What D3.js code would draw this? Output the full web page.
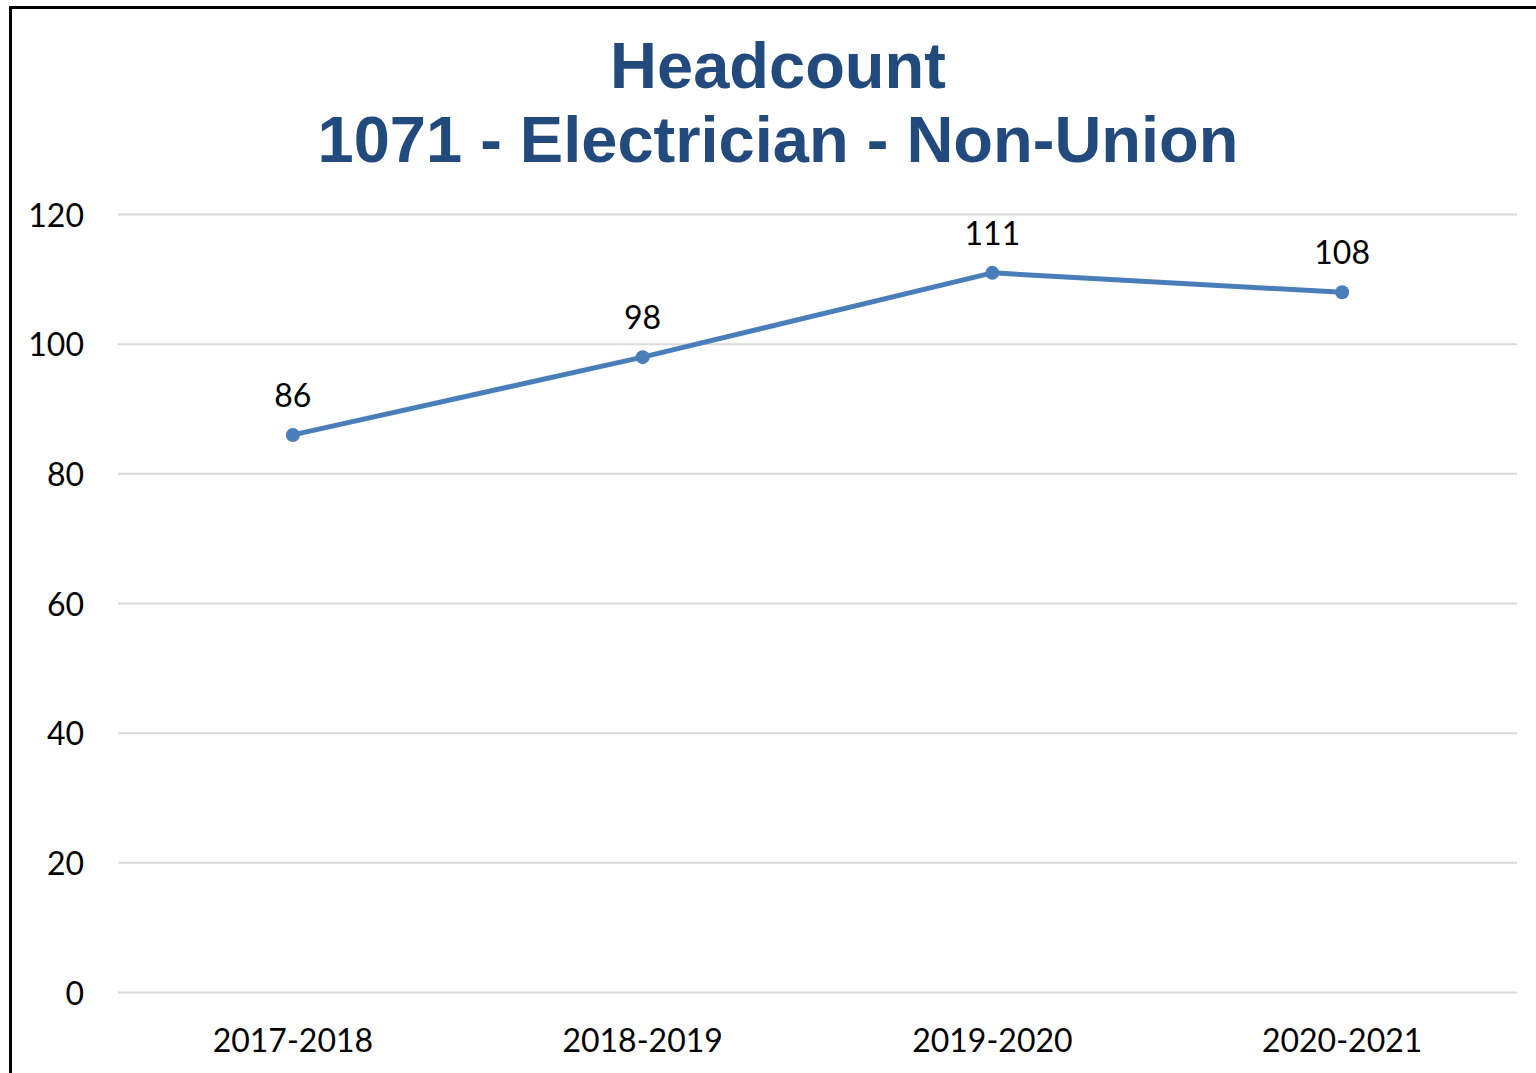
<!DOCTYPE html>
<html><head><meta charset="utf-8">
<script src="https://cdn.jsdelivr.net/npm/d3@7"></script>
<style>html,body{margin:0;padding:0;background:#fff;overflow:hidden}</style>
</head><body>
<svg id="chart" width="1536" height="1073"></svg>
<script>
const categories = ["2017-2018","2018-2019","2019-2020","2020-2021"];
const headcount = [86, 98, 111, 108];
const yTicks = [0, 20, 40, 60, 80, 100, 120];
const titleLines = ["Headcount", "1071 - Electrician - Non-Union"];

const svg = d3.select("#chart");
const W = 1536, H = 1073;
const plot = {left: 118, right: 1517, top: 214.5, bottom: 992.5};

svg.append("rect").attr("x", 10.5).attr("y", 7.5).attr("width", W + 20).attr("height", H + 20)
  .attr("fill", "#fff").attr("stroke", "#000").attr("stroke-width", 3);

const x = d3.scaleBand().domain(categories).range([plot.left, plot.right]);
const y = d3.scaleLinear().domain([0, 120]).range([plot.bottom, plot.top]);

// gridlines
svg.append("g").selectAll("line").data(yTicks).join("line")
  .attr("x1", plot.left).attr("x2", plot.right)
  .attr("y1", d => y(d)).attr("y2", d => y(d))
  .attr("stroke", "#d9d9d9").attr("stroke-width", 2);

const labelFont = "Lato, 'Open Sans', sans-serif";

// y axis
const yAxis = svg.append("g").attr("transform", `translate(${plot.left},0)`)
  .call(d3.axisLeft(y).tickValues(yTicks).tickSize(0).tickPadding(34));
yAxis.select(".domain").remove();
yAxis.selectAll("text").attr("font-family", labelFont).attr("font-size", 32).attr("fill", "#000").attr("dy", "0.36em");

// x axis
const xAxis = svg.append("g").attr("transform", `translate(0,${plot.bottom})`)
  .call(d3.axisBottom(x).tickSize(0).tickPadding(37));
xAxis.select(".domain").remove();
xAxis.selectAll("text").attr("font-family", labelFont).attr("font-size", 32).attr("fill", "#000");

const cx = c => x(c) + x.bandwidth() / 2;
const pts = categories.map((c, i) => ({c, v: headcount[i]}));

svg.append("path").datum(pts)
  .attr("d", d3.line().x(d => cx(d.c)).y(d => y(d.v)))
  .attr("fill", "none").attr("stroke", "#4a7ebb").attr("stroke-width", 5).attr("stroke-linejoin", "round");

svg.append("g").selectAll("circle").data(pts).join("circle")
  .attr("cx", d => cx(d.c)).attr("cy", d => y(d.v)).attr("r", 7).attr("fill", "#4a7ebb");

svg.append("g").selectAll("text").data(pts).join("text")
  .attr("x", d => cx(d.c)).attr("y", d => y(d.v) - 28)
  .attr("text-anchor", "middle").attr("font-family", labelFont).attr("font-size", 32).attr("fill", "#000")
  .text(d => d.v);

// title
svg.append("g").selectAll("text").data(titleLines).join("text")
  .attr("x", 778).attr("y", (d, i) => 88 + i * 74)
  .attr("text-anchor", "middle")
  .attr("font-family", "'Liberation Sans', Arial, sans-serif").attr("font-weight", "bold")
  .attr("font-size", 65).attr("fill", "#224a7c")
  .text(d => d);
</script>
</body></html>
